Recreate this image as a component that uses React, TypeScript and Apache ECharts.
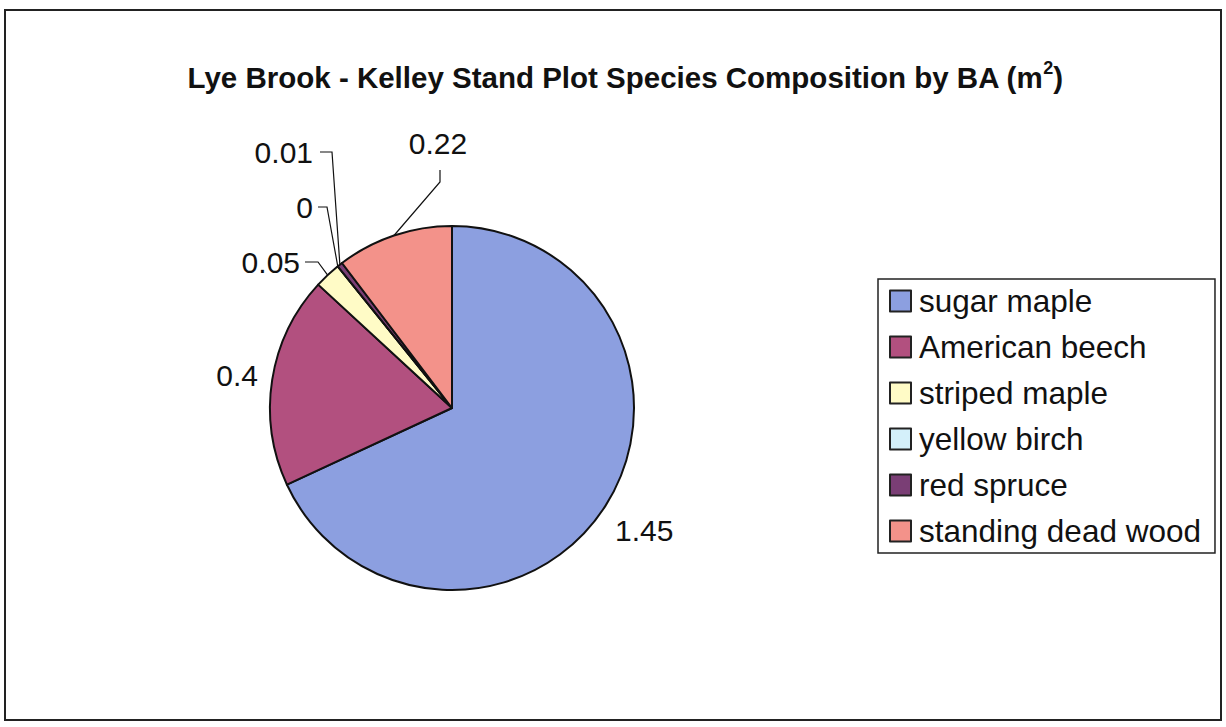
import React, { useEffect, useRef } from "react";
import * as echarts from "echarts";

// Basal area (m²) by species for the Kelley Stand plot
const species = [
  "sugar maple",
  "American beech",
  "striped maple",
  "yellow birch",
  "red spruce",
  "standing dead wood",
];
const basalArea = [1.45, 0.4, 0.05, 0, 0.01, 0.22];
const sliceColors = ["#8C9FE0", "#B2507F", "#FFFBC6", "#D4F0FA", "#7A3E75", "#F3928A"];

const W = 1226;
const H = 727;
const CX = 452;
const CY = 408;
const R = 182;
const FONT = "Liberation Sans, Arial, sans-serif";

// Label anchor offsets from the pie centre, and leader-line elbows (relative too)
type Spot = { dx: number; dy: number; align: "left" | "right" | "center"; line?: [number, number][] };
const labelSpots: Spot[] = [
  { dx: 163, dy: 122, align: "left" },
  { dx: -194, dy: -33, align: "right" },
  { dx: -152, dy: -146, align: "right", line: [[-134, -146], [-147, -146]] },
  { dx: -139, dy: -201, align: "right", line: [[-125, -201], [-134, -201]] },
  { dx: -139, dy: -256, align: "right", line: [[-120, -256], [-132, -256]] },
  { dx: -14, dy: -265, align: "center", line: [[-12, -226], [-12, -238]] },
];

export default function App() {
  const ref = useRef<HTMLDivElement>(null);

  useEffect(() => {
    if (!ref.current) return;
    const chart = echarts.init(ref.current, undefined, { renderer: "svg" });
    const total = basalArea.reduce((a, b) => a + b, 0);

    // edge point of each slice at its mid angle (clockwise from 12 o'clock)
    const edgePoints: [number, number][] = [];
    let acc = 0;
    basalArea.forEach((v) => {
      const mid = ((acc + v / 2) / total) * Math.PI * 2;
      edgePoints.push([CX + R * Math.sin(mid), CY - R * Math.cos(mid)]);
      acc += v;
    });

    chart.setOption({
      animation: false,
      backgroundColor: "#ffffff",
      textStyle: { fontFamily: FONT },
      title: {
        text: "{t|Lye Brook - Kelley Stand Plot Species Composition by BA (m}{s|2}{t|)}",
        left: 620,
        top: 54,
        textAlign: "center",
        textStyle: {
          rich: {
            t: { fontSize: 29.5, fontWeight: "bold", color: "#111", fontFamily: FONT, height: 36 },
            s: { fontSize: 18, fontWeight: "bold", color: "#111", fontFamily: FONT, verticalAlign: "top", lineHeight: 22 },
          },
        },
      },
      legend: {
        orient: "vertical",
        left: 878,
        top: 279,
        padding: [6, 14, 6, 11],
        borderColor: "#222",
        borderWidth: 1.5,
        itemWidth: 21,
        itemHeight: 21,
        itemGap: 14,
        icon: "rect",
        itemStyle: { borderColor: "#222", borderWidth: 2 },
        textStyle: { fontSize: 31.5, color: "#111", padding: [0, 0, 0, 3], fontFamily: FONT },
        data: species,
      },
      graphic: [
        {
          type: "rect",
          shape: { x: 5, y: 10, width: 1216, height: 710 },
          style: { fill: "none", stroke: "#222", lineWidth: 2 },
          silent: true,
          z: -1,
        },
      ],
      series: [
        {
          type: "pie",
          center: [CX, CY],
          radius: [0, R],
          startAngle: 90,
          clockwise: true,
          avoidLabelOverlap: false,
          minShowLabelAngle: 0,
          itemStyle: { borderColor: "#111", borderWidth: 2 },
          label: {
            show: true,
            position: "outside",
            formatter: (p: any) => String(p.value),
            fontSize: 30,
            color: "#111",
            fontFamily: FONT,
          },
          labelLine: { show: true, lineStyle: { color: "#111", width: 1.2 } },
          emphasis: { disabled: true },
          labelLayout: (params: any) => {
            const i = params.dataIndex;
            const s = labelSpots[i];
            const out: any = {
              x: CX + s.dx,
              y: CY + s.dy,
              align: s.align,
              verticalAlign: "middle",
            };
            if (s.line) {
              out.labelLinePoints = [
                edgePoints[i],
                [CX + s.line[0][0], CY + s.line[0][1]],
                [CX + s.line[1][0], CY + s.line[1][1]],
              ];
            } else {
              out.labelLinePoints = [edgePoints[i], edgePoints[i], edgePoints[i]];
            }
            return out;
          },
          data: species.map((name, i) => ({
            name,
            value: basalArea[i],
            itemStyle: { color: sliceColors[i] },
            labelLine: { show: !!labelSpots[i].line },
          })),
        },
      ],
    });

    return () => chart.dispose();
  }, []);

  return (
    <div
      ref={ref}
      style={{ position: "fixed", left: 0, top: 0, width: W, height: H, background: "#fff" }}
    />
  );
}
